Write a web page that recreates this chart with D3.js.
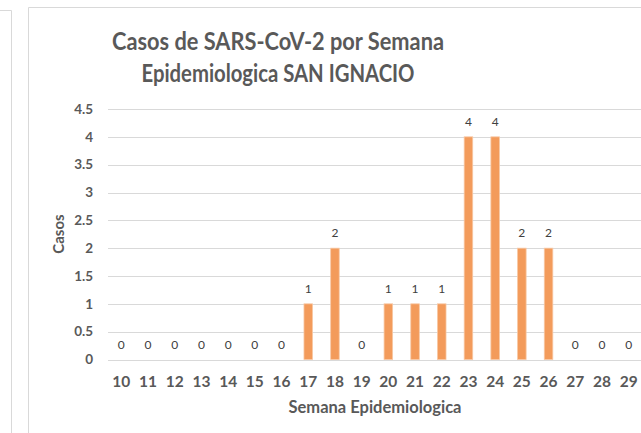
<!DOCTYPE html>
<html>
<head>
<meta charset="utf-8">
<script src="https://cdn.jsdelivr.net/npm/d3@7"></script>
<style>
  html, body { margin: 0; padding: 0; background: #ffffff; }
  svg { display: block; }
</style>
</head>
<body>
<svg id="chart" width="641" height="433"></svg>
<script>
// Weekly SARS-CoV-2 cases, San Ignacio
const semanas = ["10","11","12","13","14","15","16","17","18","19","20","21","22","23","24","25","26","27","28","29"];
const casos   = [0,0,0,0,0,0,0,1,2,0,1,1,1,4,4,2,2,0,0,0];
const yTicks  = [0,0.5,1,1.5,2,2.5,3,3.5,4,4.5];
const titleLines = ["Casos de SARS-CoV-2 por Semana", "Epidemiologica SAN IGNACIO"];
const titleWidths = [332, 273];

const svg = d3.select("#chart");
const font = "Lato, 'Open Sans', sans-serif";
const textColor = "#595959";

// outer frames
svg.append("path")
  .attr("d", "M0,10.5 H11.5 V433")
  .attr("fill", "none").attr("stroke", "#d9d9d9").attr("stroke-width", 1);
svg.append("path")
  .attr("d", "M28.5,433 V7.5 H641")
  .attr("fill", "none").attr("stroke", "#d9d9d9").attr("stroke-width", 1);

const plot = { left: 108, right: 642, top: 109, bottom: 359.5 };

const x = d3.scaleBand().domain(semanas).range([plot.left, plot.right]).paddingInner(0.68).paddingOuter(0.34);
const y = d3.scaleLinear().domain([0, 4.5]).range([plot.bottom, plot.top]);

// gridlines
svg.append("g")
  .selectAll("line").data(yTicks).join("line")
  .attr("x1", plot.left).attr("x2", plot.right)
  .attr("y1", d => Math.round(y(d)) + 0.5).attr("y2", d => Math.round(y(d)) + 0.5)
  .attr("stroke", "#d9d9d9").attr("stroke-width", 1);

// y axis labels
const yAxis = d3.axisLeft(y).tickValues(yTicks).tickSize(0).tickPadding(0).tickFormat(d3.format("~g"));
const gy = svg.append("g").attr("transform", `translate(${plot.left - 15},0)`).call(yAxis);
gy.select(".domain").remove();
gy.selectAll("text")
  .attr("font-family", font).attr("font-size", 13.5).attr("font-weight", "bold")
  .attr("fill", textColor);

// x axis labels
const xAxis = d3.axisBottom(x).tickSize(0).tickPadding(0);
const gx = svg.append("g").attr("transform", `translate(0,376)`).call(xAxis);
gx.select(".domain").remove();
gx.selectAll("text")
  .attr("font-family", font).attr("font-size", 15.5).attr("font-weight", "bold")
  .attr("fill", textColor);

// bars
svg.append("g")
  .selectAll("rect").data(semanas.map((s, i) => ({ s, v: casos[i] })).filter(d => d.v > 0)).join("rect")
  .attr("x", d => x(d.s))
  .attr("width", x.bandwidth())
  .attr("y", d => y(d.v))
  .attr("height", d => y(0) - y(d.v))
  .attr("fill", "#f39b5b")
  .attr("stroke", "#f8c8a4").attr("stroke-width", 0.8);

// value labels
svg.append("g")
  .selectAll("text").data(semanas.map((s, i) => ({ s, v: casos[i] }))).join("text")
  .attr("x", d => x(d.s) + x.bandwidth() / 2)
  .attr("y", d => y(d.v) - 11)
  .attr("text-anchor", "middle")
  .attr("font-family", font).attr("font-size", 12)
  .attr("fill", "#404040")
  .text(d => d.v);

// title
svg.append("g")
  .selectAll("text").data(titleLines).join("text")
  .attr("x", 278)
  .attr("y", (d, i) => 50 + i * 32)
  .attr("text-anchor", "middle")
  .attr("font-family", font).attr("font-size", 24.5).attr("font-weight", "bold")
  .attr("fill", textColor)
  .attr("textLength", (d, i) => titleWidths[i])
  .attr("lengthAdjust", "spacingAndGlyphs")
  .text(d => d);

// axis titles
svg.append("text")
  .attr("x", (plot.left + plot.right) / 2).attr("y", 413)
  .attr("text-anchor", "middle")
  .attr("font-family", font).attr("font-size", 16.5).attr("font-weight", "bold")
  .attr("fill", textColor)
  .text("Semana Epidemiologica");

svg.append("text")
  .attr("transform", `translate(64,234) rotate(-90)`)
  .attr("text-anchor", "middle")
  .attr("font-family", font).attr("font-size", 15).attr("font-weight", "bold")
  .attr("fill", textColor)
  .text("Casos");
</script>
</body>
</html>
